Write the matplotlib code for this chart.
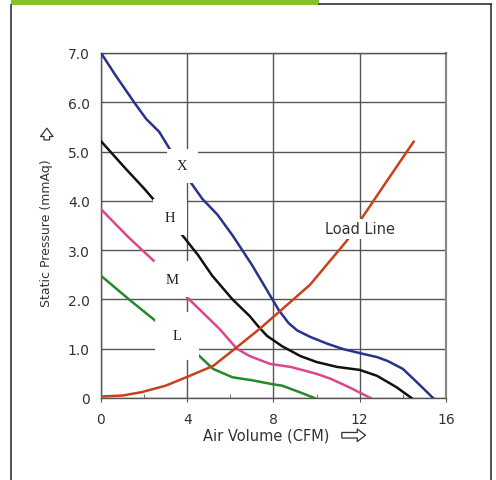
import matplotlib
matplotlib.use("Agg")
import matplotlib.pyplot as plt
from matplotlib.patches import Rectangle
from matplotlib.lines import Line2D

# fan curves (CFM, mmAq)
x_X = [0, 0.7, 1.6, 2.1, 2.7, 3.3, 4.15, 4.7, 5.4, 6.1, 6.55, 7.0, 7.95, 8.25, 8.7, 9.1, 9.7, 10.5, 11.25, 12.2, 12.8, 13.3, 14.0, 14.65, 15.4]
y_X = [7.0, 6.53, 5.96, 5.66, 5.4, 4.97, 4.38, 4.04, 3.72, 3.3, 3.0, 2.7, 2.0, 1.78, 1.52, 1.37, 1.24, 1.1, 0.99, 0.89, 0.83, 0.75, 0.59, 0.32, 0.0]

x_H = [0, 1.15, 2.0, 2.55, 3.65, 4.5, 5.16, 6.1, 6.9, 7.3, 7.7, 8.4, 9.25, 10.0, 10.95, 12.0, 12.8, 13.7, 14.4]
y_H = [5.21, 4.65, 4.25, 3.97, 3.37, 2.9, 2.48, 2.0, 1.66, 1.45, 1.26, 1.05, 0.85, 0.73, 0.63, 0.57, 0.45, 0.22, 0.0]

x_M = [0, 1.3, 2.7, 3.86, 4.7, 5.5, 6.3, 6.9, 7.85, 8.8, 10.0, 10.65, 11.5, 12.5]
y_M = [3.83, 3.25, 2.68, 2.1, 1.74, 1.4, 1.0, 0.85, 0.69, 0.63, 0.49, 0.39, 0.22, 0.0]

x_L = [0, 1.3, 2.6, 4.2, 5.2, 6.1, 7.0, 7.95, 8.4, 9.2, 9.9]
y_L = [2.48, 2.0, 1.54, 1.0, 0.59, 0.42, 0.36, 0.28, 0.25, 0.12, 0.0]

x_load = [0, 1.0, 1.9, 3.0, 3.95, 5.2, 6.3, 7.35, 8.4, 9.7, 11.4, 12.1, 13.1, 14.5]
y_load = [0.03, 0.05, 0.12, 0.25, 0.42, 0.65, 1.03, 1.4, 1.8, 2.3, 3.19, 3.65, 4.3, 5.2]

curve_names = ["X", "H", "M", "L"]
label_x = [3.76, 3.2, 3.29, 3.52]
label_y = [4.71, 3.67, 2.41, 1.26]

x_ticks = [0, 4, 8, 12, 16]
y_ticks = [0, 1, 2, 3, 4, 5, 6, 7]
y_ticklabels = ["0", "1.0", "2.0", "3.0", "4.0", "5.0", "6.0", "7.0"]

fig = plt.figure(figsize=(4.96, 4.81), dpi=100)
ax = fig.add_axes([0.2036, 0.1705, 0.6956, 0.7173])

txt = "#333333"
grid_c = "#555555"

ax.plot(x_X, y_X, color="#27338c", lw=1.8, zorder=3)
ax.plot(x_H, y_H, color="#111111", lw=1.8, zorder=3)
ax.plot(x_M, y_M, color="#d9478f", lw=1.8, zorder=3)
ax.plot(x_L, y_L, color="#24892a", lw=1.8, zorder=3)
ax.plot(x_load, y_load, color="#c8401c", lw=1.8, zorder=3)

pads = [0.7, 0.8, 0.8, 1.2]
for name, lx, ly, p in zip(curve_names, label_x, label_y, pads):
    ax.text(lx, ly, name, family="Liberation Serif", fontsize=10.5, color="#222222",
            ha="center", va="center", zorder=5,
            bbox=dict(boxstyle="square,pad=%s" % p, fc="white", ec="none"))

ax.text(12.0, 3.43, "Load Line", fontsize=10.5, color=txt, ha="center", va="center",
        zorder=5, bbox=dict(boxstyle="square,pad=0.15", fc="white", ec="none"))

ax.set_xlim(0, 16)
ax.set_ylim(0, 7)
ax.set_xticks(x_ticks)
ax.set_xticks([2, 6, 10, 14], minor=True)
ax.set_yticks(y_ticks)
ax.set_yticklabels(y_ticklabels)
ax.grid(True, color=grid_c, lw=1.0, zorder=1)
ax.set_axisbelow(True)

ax.tick_params(axis="y", length=0, pad=8, labelsize=10, labelcolor=txt)
ax.tick_params(axis="x", which="major", length=3, color=grid_c, pad=7, labelsize=10, labelcolor=txt)
ax.tick_params(axis="x", which="minor", length=3, direction="in", color=grid_c)

for s in ["left", "bottom", "top"]:
    ax.spines[s].set_color(grid_c)
    ax.spines[s].set_linewidth(1.0)
ax.spines["right"].set_color("#8a8a8a")
ax.spines["right"].set_linewidth(1.6)

ax.set_xlabel("Air Volume (CFM)", fontsize=10.5, color=txt)
ax.xaxis.set_label_coords(0.478, -0.108)
ax.xaxis.label.set_va("center")
ax.set_ylabel("Static Pressure (mmAq)", fontsize=9, color=txt)
ax.yaxis.set_label_coords(-0.157, 0.48)
ax.yaxis.label.set_va("center")

# hollow arrows next to the axis titles
arr = dict(arrowstyle="simple,head_width=0.9,head_length=0.6,tail_width=0.4",
           fc="white", ec=txt, lw=0.9)
ax.annotate("", xy=(0.775, -0.108), xytext=(0.69, -0.108),
            xycoords="axes fraction", arrowprops=arr, annotation_clip=False)
ax.annotate("", xy=(-0.157, 0.79), xytext=(-0.157, 0.74),
            xycoords="axes fraction", arrowprops=arr, annotation_clip=False)

# page frame with the green tab on top
fig.patches.append(Rectangle((11 / 496, 1 - 6 / 481), 308 / 496, 6 / 481,
                             transform=fig.transFigure, fc="#86c226", ec="none"))
fig.lines.append(Line2D([11 / 496, 11 / 496], [0, 1 - 6 / 481], transform=fig.transFigure, color="#333333", lw=1.2))
fig.lines.append(Line2D([491 / 496, 491 / 496], [0, 1 - 5 / 481], transform=fig.transFigure, color="#333333", lw=1.2))
fig.lines.append(Line2D([319 / 496, 491 / 496], [1 - 5 / 481, 1 - 5 / 481], transform=fig.transFigure, color="#333333", lw=1.2))

fig.savefig("out.png", dpi=100)
